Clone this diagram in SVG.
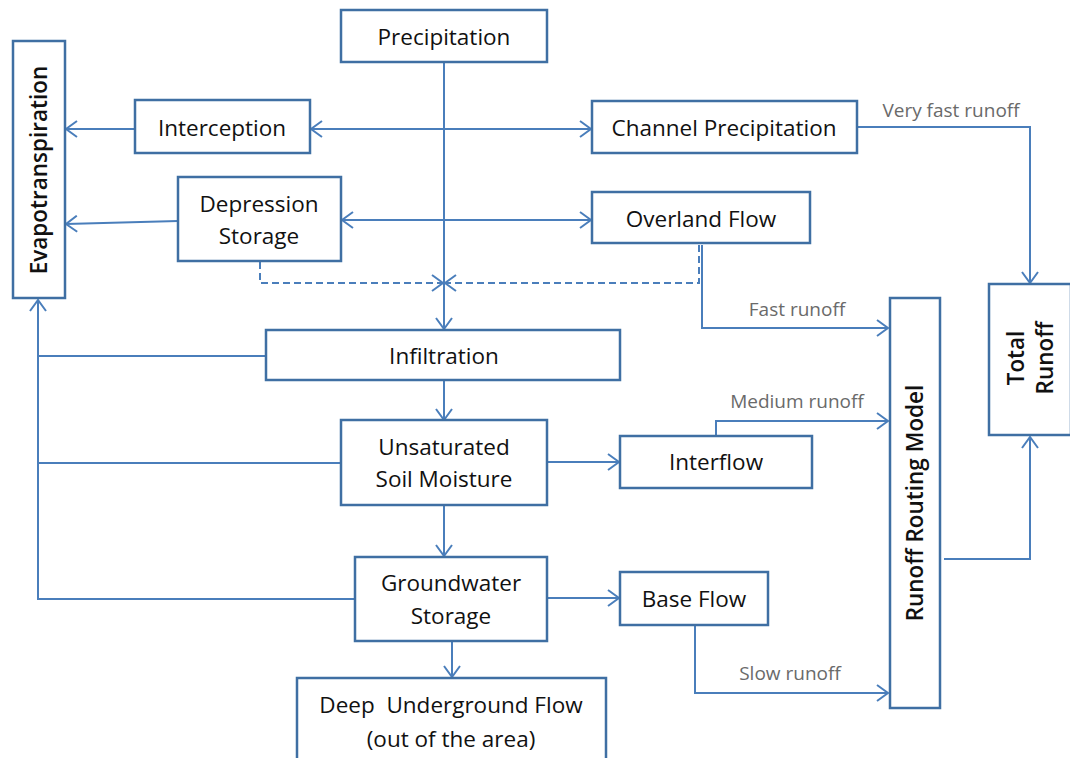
<svg xmlns="http://www.w3.org/2000/svg" width="1070" height="758" viewBox="0 0 1070 758">
<defs>
<marker id="ah" viewBox="0 0 13 18" refX="12" refY="9" markerWidth="13" markerHeight="18" markerUnits="userSpaceOnUse" orient="auto-start-reverse">
<path d="M1,1 L12,9 L1,17" fill="none" stroke="#4a7ebb" stroke-width="2"/>
</marker>
<style>
.box{fill:#fff;stroke:#3f6fa3;stroke-width:2.5}
.t{font-family:"Open Sans","Liberation Sans",sans-serif;font-size:22.5px;fill:#111;text-anchor:middle;white-space:pre}
.v{font-family:"Open Sans","Liberation Sans",sans-serif;font-size:22.5px;font-weight:600;fill:#111;text-anchor:middle}
.lbl{font-family:"Open Sans","Liberation Sans",sans-serif;font-size:19px;fill:#6a6a6a;text-anchor:middle}
.c{fill:none;stroke:#4a7ebb;stroke-width:2}
.d{fill:none;stroke:#4a7ebb;stroke-width:2;stroke-dasharray:7,4}
</style>
</defs>
<rect width="1070" height="758" fill="#fff"/>
<g id="connectors">
<path class="c" d="M444,62 V329" marker-end="url(#ah)"/>
<path class="c" d="M135,129 H66" marker-end="url(#ah)"/>
<path class="c" d="M311,129 H591" marker-start="url(#ah)" marker-end="url(#ah)"/>
<path class="c" d="M178,221 L66,224" marker-end="url(#ah)"/>
<path class="c" d="M342,220 H591" marker-start="url(#ah)" marker-end="url(#ah)"/>
<path class="d" d="M260,262 V283 H443" marker-end="url(#ah)"/>
<path class="d" d="M699,245 V283 H445" marker-end="url(#ah)"/>
<path class="c" d="M702,245 V328 H888" marker-end="url(#ah)"/>
<path class="c" d="M858,127 H1030 V283" marker-end="url(#ah)"/>
<path class="c" d="M444,381 V420" marker-end="url(#ah)"/>
<path class="c" d="M444,506 V556" marker-end="url(#ah)"/>
<path class="c" d="M452,642 V677" marker-end="url(#ah)"/>
<path class="c" d="M548,462 H619" marker-end="url(#ah)"/>
<path class="c" d="M548,598 H619" marker-end="url(#ah)"/>
<path class="c" d="M716,436 V421 H888" marker-end="url(#ah)"/>
<path class="c" d="M695,626 V693 H888" marker-end="url(#ah)"/>
<path class="c" d="M944,559 H1030 V437" marker-end="url(#ah)"/>
<path class="c" d="M266,356 H38"/>
<path class="c" d="M341,463 H38"/>
<path class="c" d="M355,599 H38 V300" marker-end="url(#ah)"/>
<text class="lbl" x="951" y="117">Very fast runoff</text>
<text class="lbl" x="797" y="316">Fast runoff</text>
<text class="lbl" x="797" y="408">Medium runoff</text>
<text class="lbl" x="790" y="680">Slow runoff</text>
</g>
<g id="precipitation"><rect class="box" x="341" y="10" width="206" height="52"/><text class="t" x="444" y="45">Precipitation</text></g>
<g id="evapotranspiration"><rect class="box" x="13" y="41" width="52" height="257"/><text class="v" transform="translate(47,170) rotate(-90)" x="0" y="0">Evapotranspiration</text></g>
<g id="interception"><rect class="box" x="135" y="100" width="175" height="53"/><text class="t" x="222" y="136">Interception</text></g>
<g id="channel-precipitation"><rect class="box" x="592" y="101" width="265" height="52"/><text class="t" x="724" y="136">Channel Precipitation</text></g>
<g id="depression-storage"><rect class="box" x="178" y="177" width="163" height="84"/><text class="t" x="259" y="212">Depression</text><text class="t" x="259" y="244">Storage</text></g>
<g id="overland-flow"><rect class="box" x="592" y="192" width="218" height="51"/><text class="t" x="701" y="227">Overland Flow</text></g>
<g id="infiltration"><rect class="box" x="266" y="330" width="354" height="50"/><text class="t" x="444" y="364">Infiltration</text></g>
<g id="unsaturated-soil-moisture"><rect class="box" x="341" y="420" width="206" height="85"/><text class="t" x="444" y="455">Unsaturated</text><text class="t" x="444" y="487">Soil Moisture</text></g>
<g id="interflow"><rect class="box" x="620" y="436" width="192" height="52"/><text class="t" x="716" y="470">Interflow</text></g>
<g id="groundwater-storage"><rect class="box" x="355" y="557" width="192" height="84"/><text class="t" x="451" y="591">Groundwater</text><text class="t" x="451" y="624">Storage</text></g>
<g id="base-flow"><rect class="box" x="620" y="572" width="148" height="53"/><text class="t" x="694" y="607">Base Flow</text></g>
<g id="deep-underground-flow"><rect class="box" x="297" y="678" width="309" height="100"/><text class="t" x="451" y="713">Deep  Underground Flow</text><text class="t" x="451" y="747">(out of the area)</text></g>
<g id="runoff-routing-model"><rect class="box" x="890" y="298" width="50" height="410"/><text class="v" transform="translate(923,503) rotate(-90)" x="0" y="0">Runoff Routing Model</text></g>
<g id="total-runoff"><rect class="box" x="989" y="284" width="82" height="151"/><text class="v" transform="translate(1024,358) rotate(-90)" x="0" y="0">Total</text><text class="v" transform="translate(1053,358) rotate(-90)" x="0" y="0">Runoff</text></g>
</svg>
